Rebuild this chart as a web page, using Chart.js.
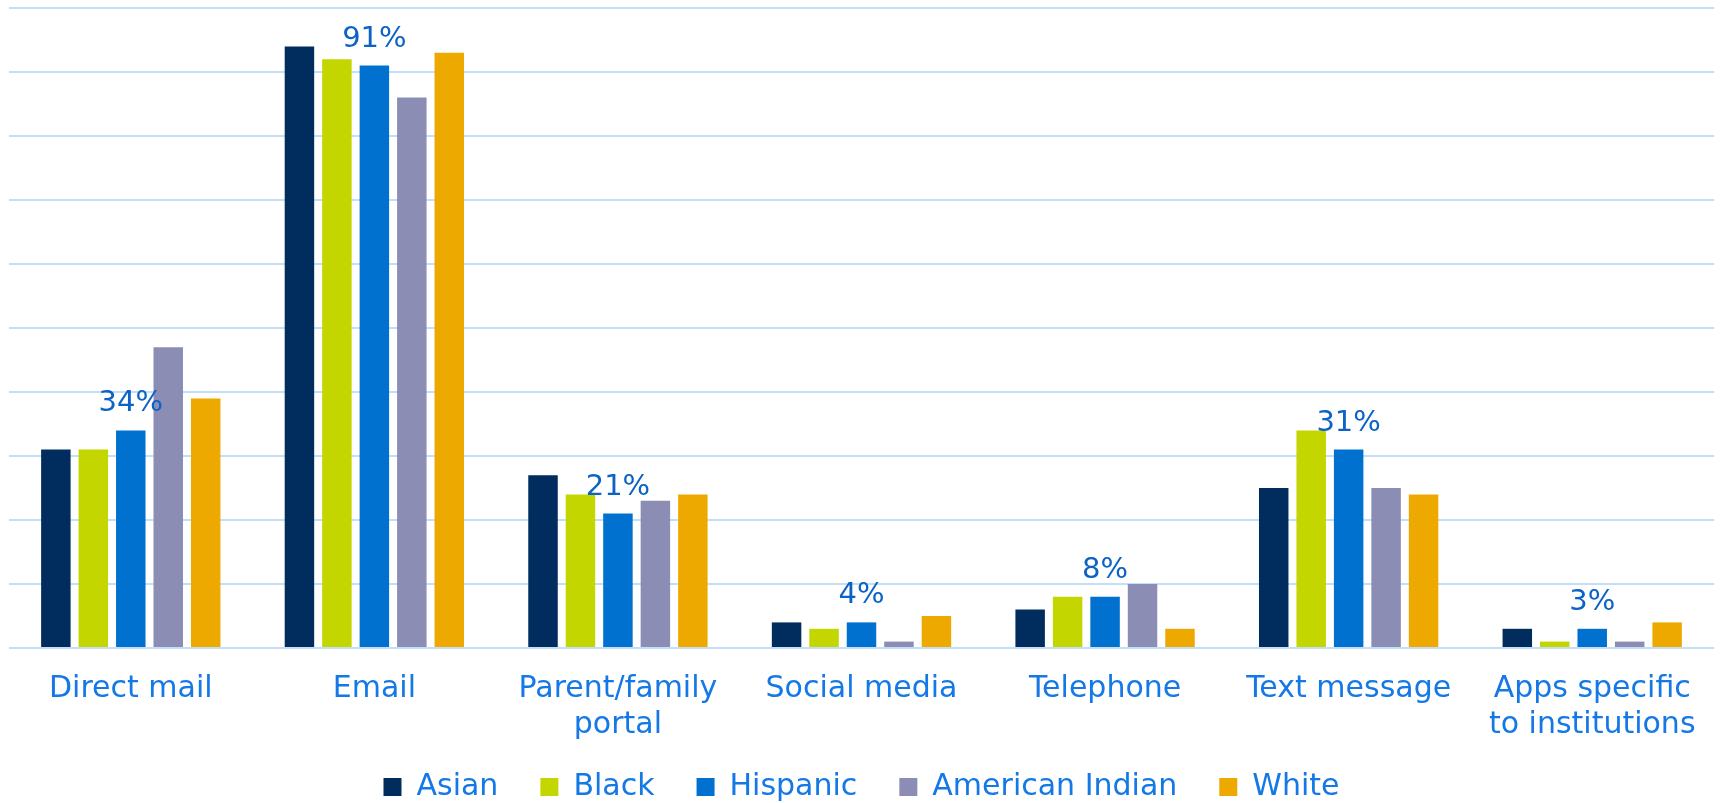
<!DOCTYPE html>
<html>
<head>
<meta charset="utf-8">
<script src="https://cdn.jsdelivr.net/npm/chart.js@4/dist/chart.umd.min.js"></script>
<style>
  html, body { margin: 0; padding: 0; background: #fff; }
  #wrap { width: 1721px; height: 803px; position: relative; }
</style>
</head>
<body>
<div id="wrap"><canvas id="chart"></canvas></div>
<script>
/* Données (en %) */
const categories = ['Direct mail', 'Email', ['Parent/family', 'portal'], 'Social media',
                    'Telephone', 'Text message', ['Apps specific', 'to institutions']];
const asian          = [31, 94, 27, 4, 6, 25, 3];
const black          = [31, 92, 24, 3, 8, 34, 1];
const hispanic       = [34, 91, 21, 4, 8, 31, 3];
const americanIndian = [47, 86, 23, 1, 10, 25, 1];
const white          = [39, 93, 24, 5, 3, 24, 4];
const yTicks = [0, 10, 20, 30, 40, 50, 60, 70, 80, 90, 100];

const FONT = 'DejaVu Sans';
const LABEL_BLUE = '#1479E6';
const VALUE_BLUE = '#0C63C5';

/* Étiquettes de valeur : seulement la série Hispanic */
const valueLabels = {
    id: 'valueLabels',
    afterDatasetsDraw(chart) {
        const ctx = chart.ctx;
        const meta = chart.getDatasetMeta(2);
        ctx.save();
        ctx.font = '29px "' + FONT + '"';
        ctx.fillStyle = VALUE_BLUE;
        ctx.textAlign = 'center';
        ctx.textBaseline = 'alphabetic';
        meta.data.forEach((bar, i) => {
            ctx.fillText(hispanic[i] + '%', bar.x, bar.y - 19);
        });
        ctx.restore();
    }
};

const ctx = document.getElementById('chart').getContext('2d');
new Chart(ctx, {
    type: 'bar',
    data: {
        labels: categories,
        datasets: [
            { label: 'Asian',           data: asian,          backgroundColor: '#002D5E' },
            { label: 'Black',           data: black,          backgroundColor: '#C4D600' },
            { label: 'Hispanic',        data: hispanic,       backgroundColor: '#0071CE' },
            { label: 'American Indian', data: americanIndian, backgroundColor: '#8B8DB5' },
            { label: 'White',           data: white,          backgroundColor: '#EDA900' }
        ]
    },
    options: {
        responsive: true,
        maintainAspectRatio: false,
        animation: false,
        datasets: { bar: { categoryPercentage: 0.769, barPercentage: 0.787 } },
        layout: { padding: { top: 8, left: 9, right: 7, bottom: -9 } },
        scales: {
            x: {
                grid:   { display: false, drawTicks: false },
                border: { display: false },
                ticks:  { color: LABEL_BLUE, padding: 23, font: { family: FONT, size: 30, lineHeight: 1.2 }, maxRotation: 0, autoSkip: false },
                afterFit(scale) {
                    // hauteur fixe, et pas de découpe des étiquettes sur 2 lignes
                    scale.height = 82;
                    scale._computeLabelArea = () => undefined;
                }
            },
            y: {
                min: 0, max: 100,
                afterBuildTicks(scale) { scale.ticks = yTicks.map(v => ({ value: v })); },
                grid:   { color: '#C3DEF7', lineWidth: 2, drawTicks: false },
                border: { display: false },
                ticks:  { display: false }
            }
        },
        plugins: {
            legend: {
                position: 'bottom',
                labels: {
                    color: LABEL_BLUE,
                    font: { family: FONT, size: 30 },
                    boxWidth: 18, boxHeight: 18,
                    padding: 42
                }
            },
            tooltip: { enabled: false }
        }
    },
    plugins: [valueLabels]
});
</script>
</body>
</html>
